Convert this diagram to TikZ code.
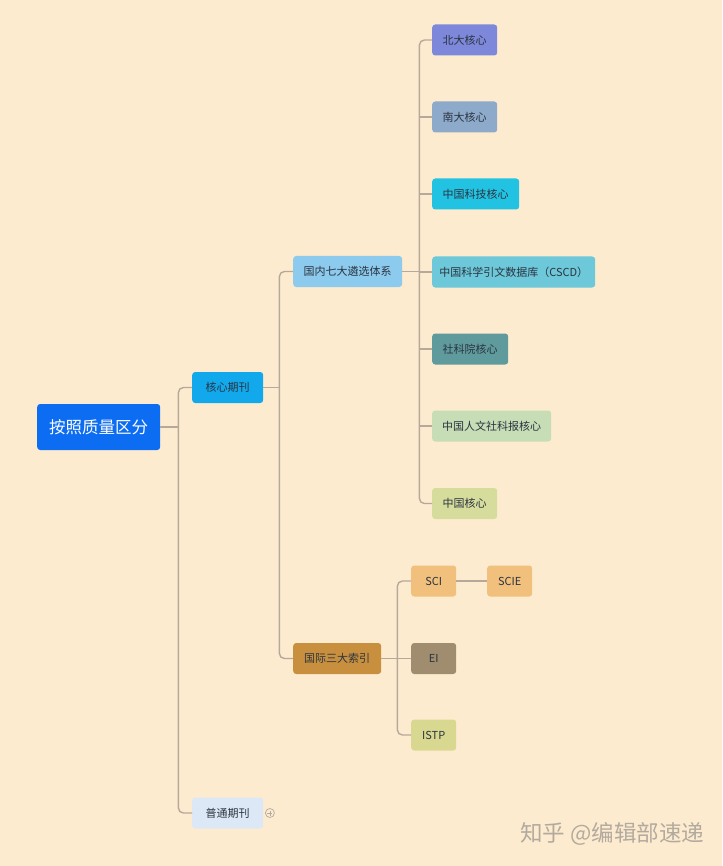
\documentclass[tikz,border=0pt]{standalone}
\usepackage{fontspec}
\setmainfont{Noto Sans CJK SC}
\definecolor{bgpeach}{HTML}{FDEBCF}
\definecolor{linegray}{HTML}{B7A89C}
\definecolor{textdark}{HTML}{2B3440}
\definecolor{rootblue}{HTML}{0C6CF2}
\definecolor{coreblue}{HTML}{12A8EC}
\definecolor{skyblue}{HTML}{8DCBEE}
\definecolor{ochre}{HTML}{C8903E}
\definecolor{paleblue}{HTML}{DCE8F6}
\definecolor{beidacol}{HTML}{7D88DA}
\definecolor{nandacol}{HTML}{8EAACB}
\definecolor{kejicol}{HTML}{22C3E2}
\definecolor{cscdcol}{HTML}{6DC8DA}
\definecolor{shekecol}{HTML}{5F9A9C}
\definecolor{renwencol}{HTML}{C6DDB6}
\definecolor{zhongguocol}{HTML}{D6DC9C}
\definecolor{scicol}{HTML}{F0C07C}
\definecolor{eicol}{HTML}{A08C6E}
\definecolor{istpcol}{HTML}{D9D890}
\definecolor{wmgray}{HTML}{B3AA9F}
\begin{document}
\begin{tikzpicture}[x=1pt,y=-1pt]
\tikzstyle{every node}+=[inner sep=0pt]
\tikzstyle{topic}=[rectangle, rounded corners=3pt, minimum height=31pt, anchor=west, text=textdark, font=\fontsize{11}{13}\selectfont]
\tikzstyle{branch}=[draw=linegray, line width=1.4pt]
\useasboundingbox (0,0) rectangle (722,866);
\fill [bgpeach] (0,0) rectangle (722,866);
% main topics
\node [topic, fill=rootblue, minimum width=123pt, minimum height=46pt, text=white, font=\fontsize{16.5}{18}\selectfont] (root) at (37,427) {按照质量区分};
\node [topic, fill=coreblue, minimum width=71pt] (hexin) at (192,387.5) {核心期刊};
\node [topic, fill=skyblue, minimum width=109pt] (guonei) at (293,271.5) {国内七大遴选体系};
\node [topic, fill=ochre, minimum width=88pt] (guoji) at (293,658.5) {国际三大索引};
\node [topic, fill=paleblue, minimum width=71pt] (putong) at (192,813) {普通期刊};
% seven domestic lists
\foreach \name/\y/\w/\col/\txt in {beida/40/65/beidacol/北大核心, nanda/117/65/nandacol/南大核心, keji/194/87/kejicol/中国科技核心, cscd/272/163/cscdcol/中国科学引文数据库（CSCD）, sheke/349/76/shekecol/社科院核心, renwen/426/119/renwencol/中国人文社科报核心, zhongguo/503.5/65/zhongguocol/中国核心}
  \node [topic, fill=\col, minimum width=\w pt] (\name) at (432,\y) {\txt};
% three international indexes
\node [topic, fill=scicol, minimum width=45pt] (sci) at (411,581) {SCI};
\node [topic, fill=scicol, minimum width=45pt] (scie) at (487,581) {SCIE};
\node [topic, fill=eicol, minimum width=45pt] (ei) at (411,658.5) {EI};
\node [topic, fill=istpcol, minimum width=45pt] (istp) at (411,735) {ISTP};
% junctions
\coordinate (j1) at ([xshift=18pt]root.east);
\coordinate (j2) at ([xshift=16pt]hexin.east);
\coordinate (j3) at ([xshift=17pt]guonei.east);
\coordinate (j4) at ([xshift=16pt]guoji.east);
% connectors
\draw [branch] (root.east) -- (j1);
\draw [branch, rounded corners=5pt] (hexin.west) -| (j1) |- (putong.west);
\draw [branch] (hexin.east) -- (j2);
\draw [branch, rounded corners=5pt] (guonei.west) -| (j2) |- (guoji.west);
\draw [branch] (guonei.east) -- (j3);
\draw [branch, rounded corners=5pt] (beida.west) -| (j3) |- (zhongguo.west);
\foreach \name in {nanda, keji, cscd, sheke, renwen}
  \draw [branch] (j3 |- \name.west) -- (\name.west);
\draw [branch] (guoji.east) -- (j4);
\draw [branch, rounded corners=5pt] (sci.west) -| (j4) |- (istp.west);
\draw [branch] (j4) -- (ei.west);
\draw [branch] (sci.east) -- (scie.west);
% collapsed marker
\node [circle, draw=wmgray, line width=0.7pt, minimum size=9pt] (expand) at ([xshift=6.5pt]putong.east) {};
\draw [wmgray, line width=0.7pt] ([xshift=-2.5pt]expand.center) -- ([xshift=2.5pt]expand.center);
\draw [wmgray, line width=0.7pt] ([yshift=-2.5pt]expand.center) -- ([yshift=2.5pt]expand.center);
% watermark
\node [anchor=west, text=wmgray, font=\fontsize{22.5}{24}\selectfont] (mark) at (520,834) {知乎 @编辑部速递};
\end{tikzpicture}
\end{document}
